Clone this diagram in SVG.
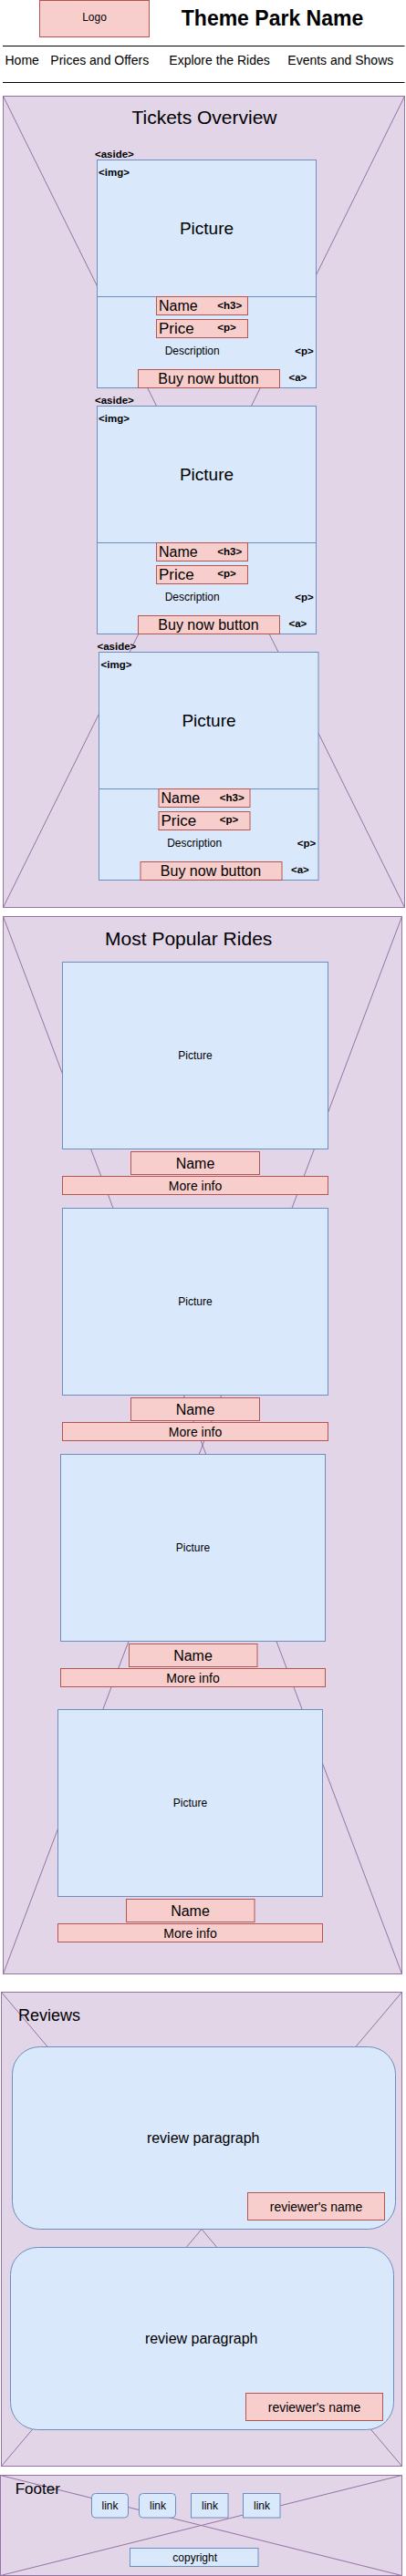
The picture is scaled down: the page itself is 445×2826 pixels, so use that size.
<svg xmlns="http://www.w3.org/2000/svg" width="445" height="2826" viewBox="0 0 445 2826">
<style>
text{font-family:"Liberation Sans",Arial,Helvetica,sans-serif;fill:#000}
.sec{fill:#e1d5e7;stroke:#9673a6;stroke-width:1}
.diag{stroke:#9673a6;stroke-width:1;fill:none}
.blue{fill:#dae8fc;stroke:#6c8ebf;stroke-width:1}
.red{fill:#f8cecc;stroke:#b85450;stroke-width:1}
.c{text-anchor:middle;dominant-baseline:central}
.tag{font-size:11.5px;font-weight:bold}
.hr{stroke:#000;stroke-width:1}
</style>
<rect width="445" height="2826" fill="#fff"/>

<g id="header">
  <g id="logo">
    <rect class="red" x="43.5" y="0.5" width="120" height="40"/>
    <text class="c" x="103.5" y="18.5" font-size="12">Logo</text>
  </g>
  <text id="title" x="298.5" y="27.5" font-size="23" font-weight="bold" text-anchor="middle">Theme Park Name</text>
  <line class="hr" x1="3" y1="50.5" x2="443.5" y2="50.5"/>
  <g id="nav" font-size="14">
    <text x="5.5" y="70.7" font-size="14">Home</text>
    <text x="55.3" y="70.7" font-size="14">Prices and Offers</text>
    <text x="185.3" y="70.7" font-size="14">Explore the Rides</text>
    <text x="315.3" y="70.7" font-size="14">Events and Shows</text>
  </g>
  <line class="hr" x1="3" y1="90.5" x2="443.5" y2="90.5"/>
</g>

<g id="tickets">
  <rect class="sec" x="3.5" y="105.5" width="440" height="890"/>
  <line class="diag" x1="3.5" y1="105.5" x2="443.5" y2="995.5"/>
  <line class="diag" x1="443.5" y1="105.5" x2="3.5" y2="995.5"/>
  <text x="224" y="136" font-size="21" text-anchor="middle">Tickets Overview</text>
  <g id="aside1">
    <text class="tag" x="104" y="173.3">&lt;aside&gt;</text>
    <rect class="blue" x="106.5" y="175.5" width="240" height="250"/>
    <line stroke="#6c8ebf" x1="106.5" y1="325.5" x2="346.5" y2="325.5"/>
    <text class="tag" x="108" y="193">&lt;img&gt;</text>
    <text class="c" x="226.5" y="250.5" font-size="19">Picture</text>
    <rect class="red" x="171.5" y="325.5" width="100" height="20"/>
    <text x="174" y="341" font-size="16">Name</text>
    <text class="tag" x="238.3" y="338.5">&lt;h3&gt;</text>
    <rect class="red" x="171.5" y="350.5" width="100" height="20"/>
    <text x="174" y="365.7" font-size="17">Price</text>
    <text class="tag" x="238.3" y="362.7">&lt;p&gt;</text>
    <text x="180.7" y="389.3" font-size="12">Description</text>
    <text class="tag" x="323.3" y="389">&lt;p&gt;</text>
    <rect class="red" x="151.5" y="405.5" width="155" height="20"/>
    <text class="c" x="228.5" y="415" font-size="16">Buy now button</text>
    <text class="tag" x="316.5" y="418.3">&lt;a&gt;</text>
  </g>
  <g id="aside2" transform="translate(0,270)">
    <text class="tag" x="104" y="173.3">&lt;aside&gt;</text>
    <rect class="blue" x="106.5" y="175.5" width="240" height="250"/>
    <line stroke="#6c8ebf" x1="106.5" y1="325.5" x2="346.5" y2="325.5"/>
    <text class="tag" x="108" y="193">&lt;img&gt;</text>
    <text class="c" x="226.5" y="250.5" font-size="19">Picture</text>
    <rect class="red" x="171.5" y="325.5" width="100" height="20"/>
    <text x="174" y="341" font-size="16">Name</text>
    <text class="tag" x="238.3" y="338.5">&lt;h3&gt;</text>
    <rect class="red" x="171.5" y="350.5" width="100" height="20"/>
    <text x="174" y="365.7" font-size="17">Price</text>
    <text class="tag" x="238.3" y="362.7">&lt;p&gt;</text>
    <text x="180.7" y="389.3" font-size="12">Description</text>
    <text class="tag" x="323.3" y="389">&lt;p&gt;</text>
    <rect class="red" x="151.5" y="405.5" width="155" height="20"/>
    <text class="c" x="228.5" y="415" font-size="16">Buy now button</text>
    <text class="tag" x="316.5" y="418.3">&lt;a&gt;</text>
  </g>
  <g id="aside3" transform="translate(2.5,540)">
    <text class="tag" x="104" y="173.3">&lt;aside&gt;</text>
    <rect class="blue" x="106" y="175.5" width="240.5" height="250"/>
    <line stroke="#6c8ebf" x1="106" y1="325.5" x2="346.5" y2="325.5"/>
    <text class="tag" x="108" y="193">&lt;img&gt;</text>
    <text class="c" x="226.5" y="250.5" font-size="19">Picture</text>
    <rect class="red" x="171.5" y="325.5" width="100" height="20"/>
    <text x="174" y="341" font-size="16">Name</text>
    <text class="tag" x="238.3" y="338.5">&lt;h3&gt;</text>
    <rect class="red" x="171.5" y="350.5" width="100" height="20"/>
    <text x="174" y="365.7" font-size="17">Price</text>
    <text class="tag" x="238.3" y="362.7">&lt;p&gt;</text>
    <text x="180.7" y="389.3" font-size="12">Description</text>
    <text class="tag" x="323.3" y="389">&lt;p&gt;</text>
    <rect class="red" x="151.5" y="405.5" width="155" height="20"/>
    <text class="c" x="228.5" y="415" font-size="16">Buy now button</text>
    <text class="tag" x="316.5" y="418.3">&lt;a&gt;</text>
  </g>
</g>

<g id="rides">
  <rect class="sec" x="3.5" y="1005.5" width="437" height="1160"/>
  <line class="diag" x1="3.5" y1="1005.5" x2="440.5" y2="2165.5"/>
  <line class="diag" x1="440.5" y1="1005.5" x2="3.5" y2="2165.5"/>
  <text x="206.7" y="1036.7" font-size="21" text-anchor="middle">Most Popular Rides</text>
  <g id="ride1">
    <rect class="blue" x="68.5" y="1055.5" width="291" height="205"/>
    <text class="c" x="214" y="1158" font-size="12">Picture</text>
    <rect class="red" x="143.5" y="1263.5" width="141" height="25"/>
    <text class="c" x="214" y="1276" font-size="16">Name</text>
    <rect class="red" x="68.5" y="1290.5" width="291" height="20"/>
    <text class="c" x="214" y="1300.5" font-size="14">More info</text>
  </g>
  <g id="ride2" transform="translate(0,270)">
    <rect class="blue" x="68.5" y="1055.5" width="291" height="205"/>
    <text class="c" x="214" y="1158" font-size="12">Picture</text>
    <rect class="red" x="143.5" y="1263.5" width="141" height="25"/>
    <text class="c" x="214" y="1276" font-size="16">Name</text>
    <rect class="red" x="68.5" y="1290.5" width="291" height="20"/>
    <text class="c" x="214" y="1300.5" font-size="14">More info</text>
  </g>
  <g id="ride3" transform="translate(-2,540)">
    <rect class="blue" x="68.5" y="1055.5" width="290" height="205"/>
    <text class="c" x="213.5" y="1158" font-size="12">Picture</text>
    <rect class="red" x="143.5" y="1263.5" width="140.5" height="25"/>
    <text class="c" x="213.5" y="1276" font-size="16">Name</text>
    <rect class="red" x="68.5" y="1290.5" width="290" height="20"/>
    <text class="c" x="213.5" y="1300.5" font-size="14">More info</text>
  </g>
  <g id="ride4" transform="translate(-5,820)">
    <rect class="blue" x="68.5" y="1055.5" width="290" height="205"/>
    <text class="c" x="213.5" y="1158" font-size="12">Picture</text>
    <rect class="red" x="143.5" y="1263.5" width="140.5" height="25"/>
    <text class="c" x="213.5" y="1276" font-size="16">Name</text>
    <rect class="red" x="68.5" y="1290.5" width="290" height="20"/>
    <text class="c" x="213.5" y="1300.5" font-size="14">More info</text>
  </g>
</g>

<g id="reviews">
  <rect class="sec" x="1.5" y="2185.5" width="439" height="520"/>
  <line class="diag" x1="1.5" y1="2185.5" x2="440.5" y2="2705.5"/>
  <line class="diag" x1="440.5" y1="2185.5" x2="1.5" y2="2705.5"/>
  <text x="20" y="2217.3" font-size="18">Reviews</text>
  <g id="review1">
    <rect class="blue" x="13.5" y="2245.5" width="420" height="200" rx="30" ry="30"/>
    <text class="c" x="222.7" y="2345.5" font-size="16">review paragraph</text>
    <rect class="red" x="271.5" y="2405.5" width="150" height="30"/>
    <text class="c" x="346.5" y="2420.5" font-size="14">reviewer's name</text>
  </g>
  <g id="review2">
    <rect class="blue" x="11.5" y="2465.5" width="420" height="200" rx="30" ry="30"/>
    <text class="c" x="220.7" y="2565.5" font-size="16">review paragraph</text>
    <rect class="red" x="269.5" y="2625.5" width="150" height="30"/>
    <text class="c" x="344.5" y="2640.5" font-size="14">reviewer's name</text>
  </g>
</g>

<g id="footer">
  <rect class="sec" x="0.5" y="2715.5" width="440" height="110"/>
  <line class="diag" x1="0.5" y1="2715.5" x2="440.5" y2="2825.5"/>
  <line class="diag" x1="440.5" y1="2715.5" x2="0.5" y2="2825.5"/>
  <text x="16.7" y="2735.7" font-size="17">Footer</text>
  <g id="link1"><rect class="blue" x="100.5" y="2735.5" width="40" height="26.5" rx="4"/><text class="c" x="120.5" y="2749" font-size="12">link</text></g>
  <g id="link2"><rect class="blue" x="152.5" y="2735.5" width="40" height="26.5" rx="4"/><text class="c" x="173" y="2749" font-size="12">link</text></g>
  <g id="link3"><rect class="blue" x="209.5" y="2735.5" width="40.5" height="26.5"/><text class="c" x="230" y="2749" font-size="12">link</text></g>
  <g id="link4"><rect class="blue" x="266.5" y="2735.5" width="40.5" height="26.5"/><text class="c" x="287" y="2749" font-size="12">link</text></g>
  <g id="copyright"><rect class="blue" x="142.5" y="2795.5" width="140.5" height="20"/><text class="c" x="213.7" y="2805.5" font-size="12">copyright</text></g>
</g>

<g id="connectors"/>
</svg>
